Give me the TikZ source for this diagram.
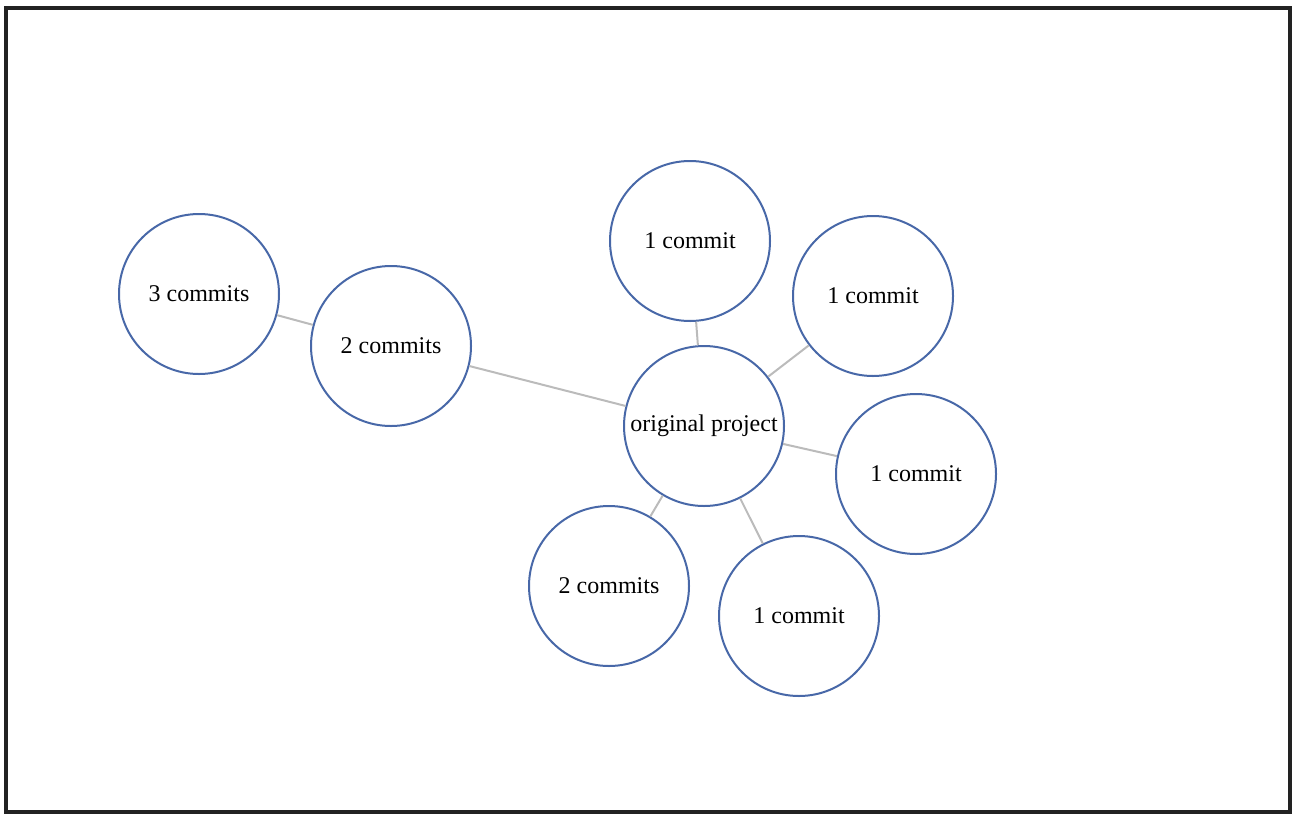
\documentclass[tikz,border=0pt]{standalone}
\usepackage{fontspec}
\setmainfont{Liberation Serif}
\definecolor{circblue}{HTML}{4868A8}
\definecolor{edgegray}{HTML}{BBBBBB}
\definecolor{frame}{HTML}{222222}
\begin{document}
\begin{tikzpicture}[x=1pt,y=-1pt,
  bubble/.style={circle,draw=circblue,line width=2pt,fill=white,minimum size=160pt,inner sep=0pt,font=\fontsize{24}{28}\selectfont},
  link/.style={draw=edgegray,line width=2pt}]
\useasboundingbox (0,0) rectangle (1300,822);
\draw[frame,line width=4pt] (6,8) rectangle (1290,812);
\node[bubble] (orig) at (704,426) {original project};
\node[bubble] (c3) at (199,294) {3 commits};
\node[bubble] (c2a) at (391,346) {2 commits};
\node[bubble] (t1) at (690,241) {1 commit};
\node[bubble] (t2) at (873,296) {1 commit};
\node[bubble] (t3) at (916,474) {1 commit};
\node[bubble] (t4) at (799,616) {1 commit};
\node[bubble] (c2b) at (609,586) {2 commits};
\path[link] (c3) -- (c2a);
\path[link] (c2a) -- (orig);
\path[link] (orig) -- (t1);
\path[link] (orig) -- (t2);
\path[link] (orig) -- (t3);
\path[link] (orig) -- (t4);
\path[link] (orig) -- (c2b);
\end{tikzpicture}
\end{document}
